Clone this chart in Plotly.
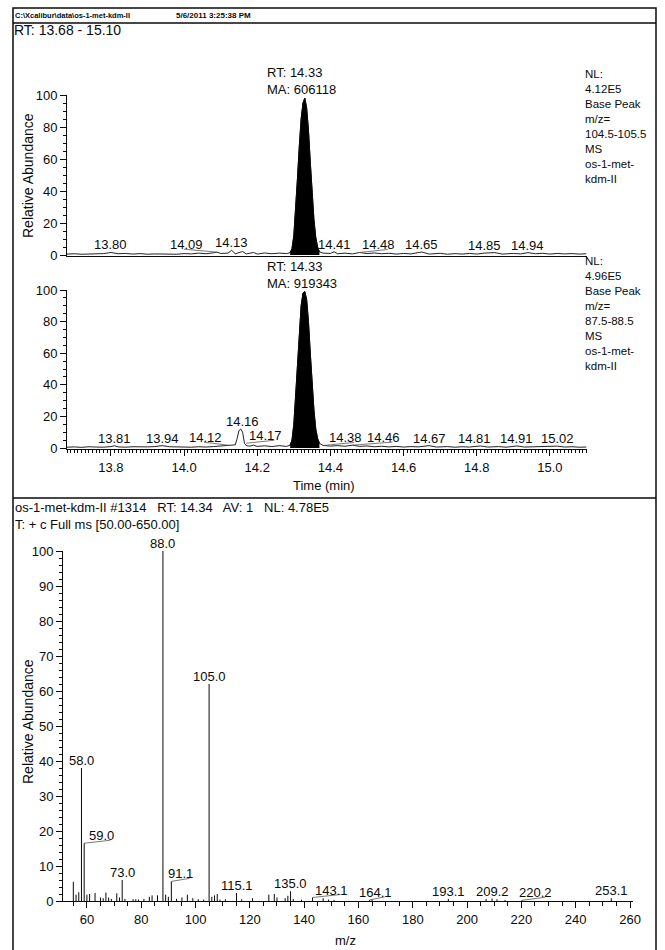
import numpy as np
import plotly.graph_objects as go

W, H = 665, 950

# ---------------- data ----------------
# Chromatogram 1: Base Peak m/z 104.5-105.5
chrom1_time = [13.68, 13.70, 13.72, 13.74, 13.76, 13.78, 13.80, 13.82, 13.84, 13.86, 13.88, 13.90,
               13.92, 13.94, 13.96, 13.98, 14.00, 14.02, 14.04, 14.06, 14.08, 14.09, 14.10, 14.12,
               14.13, 14.14, 14.16, 14.17, 14.19, 14.20, 14.22, 14.24, 14.26, 14.28, 14.29, 14.295,
               14.30, 14.305, 14.31, 14.315, 14.32, 14.325, 14.33, 14.335, 14.34, 14.345, 14.35,
               14.355, 14.36, 14.365, 14.37, 14.38, 14.40, 14.41, 14.42, 14.44, 14.46, 14.48, 14.50,
               14.52, 14.54, 14.56, 14.58, 14.60, 14.62, 14.65, 14.67, 14.70, 14.72, 14.74, 14.76,
               14.78, 14.80, 14.82, 14.85, 14.87, 14.90, 14.92, 14.94, 14.96, 14.98, 15.00, 15.02,
               15.04, 15.06, 15.08, 15.10]
chrom1_abund = [0.6, 0.8, 0.5, 0.7, 0.6, 0.9, 1.6, 0.8, 1.0, 0.6, 0.9, 0.5,
                0.7, 0.6, 0.8, 0.5, 0.9, 0.7, 1.2, 0.8, 1.4, 1.8, 1.0, 1.2,
                3.0, 0.8, 2.2, 0.7, 1.6, 0.6, 1.3, 0.8, 1.2, 0.9, 1.5, 4.0,
                12.0, 28.0, 48.0, 68.0, 85.0, 95.0, 98.0, 92.0, 78.0, 58.0, 38.0,
                22.0, 11.0, 5.0, 2.0, 1.2, 1.0, 2.0, 0.8, 1.2, 0.7, 1.6, 0.9,
                1.3, 0.8, 1.1, 0.6, 1.0, 0.7, 1.9, 0.6, 1.1, 0.5, 0.9, 0.6,
                1.0, 0.6, 1.2, 1.5, 0.6, 1.0, 0.7, 1.5, 0.8, 1.1, 0.6, 1.0,
                0.7, 0.9, 0.6, 0.8]
chrom1_labels = [13.80, 14.09, 14.13, 14.41, 14.48, 14.65, 14.85, 14.94]

# Chromatogram 2: Base Peak m/z 87.5-88.5
chrom2_time = [13.68, 13.70, 13.72, 13.74, 13.76, 13.78, 13.80, 13.81, 13.82, 13.84, 13.86, 13.88,
               13.90, 13.92, 13.94, 13.96, 13.98, 14.00, 14.02, 14.04, 14.06, 14.08, 14.10, 14.12,
               14.13, 14.14, 14.145, 14.15, 14.155, 14.16, 14.165, 14.17, 14.18, 14.19, 14.20, 14.22,
               14.24, 14.26, 14.28, 14.29, 14.295, 14.30, 14.305, 14.31, 14.315, 14.32, 14.325, 14.33,
               14.335, 14.34, 14.345, 14.35, 14.355, 14.36, 14.365, 14.37, 14.38, 14.40, 14.42, 14.44,
               14.46, 14.48, 14.50, 14.52, 14.54, 14.56, 14.58, 14.60, 14.62, 14.64, 14.67, 14.69,
               14.72, 14.74, 14.76, 14.78, 14.81, 14.83, 14.86, 14.88, 14.91, 14.93, 14.96, 14.98,
               15.00, 15.02, 15.04, 15.06, 15.08, 15.10]
chrom2_abund = [0.5, 0.7, 0.4, 0.8, 0.6, 0.5, 0.9, 1.4, 0.7, 0.5, 0.8, 0.6,
                0.7, 0.9, 1.5, 0.8, 0.6, 0.7, 0.5, 0.8, 0.6, 0.9, 1.2, 1.8,
                1.6, 2.0, 6.0, 11.0, 12.0, 10.0, 3.0, 1.5, 1.2, 1.8, 1.0, 1.4,
                0.9, 1.5, 1.0, 1.8, 5.0, 15.0, 33.0, 55.0, 75.0, 90.0, 98.0, 99.0,
                94.0, 80.0, 60.0, 40.0, 24.0, 12.0, 6.0, 3.0, 1.6, 1.2, 1.5, 1.1,
                1.8, 1.0, 1.3, 0.8, 1.1, 0.7, 1.0, 0.6, 0.9, 0.7, 1.5, 0.6,
                0.9, 0.5, 0.8, 0.6, 1.3, 0.6, 0.9, 0.5, 1.3, 0.6, 0.8, 0.5,
                0.7, 1.2, 0.6, 0.8, 0.5, 0.6]
chrom2_labels = [13.81, 13.94, 14.12, 14.16, 14.17, 14.38, 14.46, 14.67, 14.81, 14.91, 15.02]

peak_rt = 14.33
peak_window = (14.29, 14.37)
chrom1_ma = 606118
chrom2_ma = 919343

# Mass spectrum, scan #1314
spec_mz = [55, 56, 57, 58, 59, 60, 61, 63, 65, 66, 67, 68, 69, 71, 72, 73, 74, 77, 78, 79,
           81, 83, 84, 86, 88, 89, 90, 91.1, 93, 95, 97, 99, 101, 103, 105, 106, 107, 108,
           109, 111, 115.1, 117, 121, 127, 129, 130, 133, 134, 135, 136, 139, 143.1, 147,
           149, 151, 164.1, 165, 193.1, 207, 209.2, 211, 214, 220.2, 253.1]
spec_abund = [5.5, 1.8, 2.5, 38.0, 16.5, 1.8, 2.0, 2.3, 1.0, 0.8, 2.4, 1.0, 0.6, 2.2, 1.0, 6.0, 0.6, 0.5, 0.5, 0.4,
              0.6, 1.2, 1.6, 1.6, 100.0, 1.8, 1.2, 5.6, 0.6, 1.0, 1.8, 0.8, 0.5, 0.4, 62.0, 1.2, 1.6, 2.0,
              0.4, 0.5, 2.3, 0.5, 0.8, 1.8, 2.0, 1.0, 0.8, 1.5, 2.8, 0.6, 0.4, 1.0, 0.8,
              0.4, 0.3, 0.3, 0.4, 0.6, 0.6, 0.7, 0.5, 0.3, 0.2, 0.8]
spec_labels = [58.0, 59.0, 73.0, 88.0, 91.1, 105.0, 115.1, 135.0, 143.1, 164.1, 193.1, 209.2, 220.2, 253.1]

# ---------------- helpers ----------------
FONT = "Liberation Sans, Arial, sans-serif"
INK = "#0a0a0a"
LEADER = "#555555"


def fx(p):
    return p / W


def fy(p):
    return 1 - p / H


fig = go.Figure()

# chromatogram traces
for t, a, xa, ya in [(chrom1_time, chrom1_abund, "x", "y"), (chrom2_time, chrom2_abund, "x2", "y2")]:
    t = np.array(t)
    a = np.array(a)
    m = (t >= peak_window[0]) & (t <= peak_window[1])
    fig.add_trace(go.Scatter(x=t[m], y=a[m], mode="lines", fill="tozeroy", fillcolor="black",
                             line=dict(color="black", width=1), xaxis=xa, yaxis=ya, hoverinfo="skip"))
    fig.add_trace(go.Scatter(x=t, y=a, mode="lines", line=dict(color=INK, width=0.9),
                             xaxis=xa, yaxis=ya))

# spectrum sticks
sx, sy = [], []
for m_, v in zip(spec_mz, spec_abund):
    sx += [m_, m_, None]
    sy += [0, v, None]
fig.add_trace(go.Scatter(x=sx, y=sy, mode="lines", line=dict(color=INK, width=1),
                         xaxis="x3", yaxis="y3"))

axis_common = dict(showgrid=False, zeroline=False, showline=True, linecolor=INK, linewidth=1,
                   automargin=False,
                   tickcolor=INK, tickwidth=1, tickfont=dict(family=FONT, size=13, color=INK))

chrom_xdom = [fx(67), fx(586.5)]
fig.update_layout(
    template="none",
    width=W, height=H, margin=dict(l=0, r=0, t=0, b=0, pad=0),
    paper_bgcolor="white", plot_bgcolor="white", showlegend=False,
    font=dict(family=FONT, color=INK),
    xaxis=dict(domain=chrom_xdom, range=[13.68, 15.10], anchor="y", ticks="",
               showticklabels=False, **axis_common),
    yaxis=dict(domain=[fy(256), fy(95)], range=[-0.6, 100], anchor="x", ticks="outside",
               ticklen=6, tick0=0, dtick=20,
               minor=dict(ticks="outside", ticklen=3, dtick=5, tickcolor=INK), **axis_common),
    xaxis2=dict(domain=chrom_xdom, range=[13.68, 15.10], anchor="y2", ticks="outside",
                ticklen=6, tick0=13.8, dtick=0.2, tickformat=".1f",
                minor=dict(ticks="outside", ticklen=3, dtick=0.01, tickcolor=INK), **axis_common),
    yaxis2=dict(domain=[fy(448.95), fy(290)], range=[-0.6, 100], anchor="x2", ticks="outside",
                ticklen=6, tick0=0, dtick=20,
                minor=dict(ticks="outside", ticklen=3, dtick=5, tickcolor=INK), **axis_common),
    xaxis3=dict(domain=[fx(63), fx(633)], range=[51.2, 261.1], anchor="y3", ticks="outside",
                ticklen=6, tick0=0, dtick=20,
                minor=dict(ticks="outside", ticklen=4, dtick=5, tickcolor=INK), **axis_common),
    yaxis3=dict(domain=[fy(901), fy(551)], range=[0, 100], anchor="x3", ticks="outside",
                ticklen=6, tick0=0, dtick=10,
                minor=dict(ticks="outside", ticklen=3, dtick=2, tickcolor=INK), **axis_common),
)

ann = []
shapes = []


def paper_text(text, x, y, size=13, xanchor="left", yanchor="middle", angle=0, bold=False):
    if bold:
        text = "<b>" + text + "</b>"
    ann.append(dict(text=text, x=fx(x), y=fy(y), xref="paper", yref="paper", showarrow=False,
                    xanchor=xanchor, yanchor=yanchor, textangle=angle, align="left",
                    font=dict(family=FONT, size=size, color=INK)))


def leader(xv, yv, xa, ya, shift):
    # thin connector from a peak apex to its displaced label
    end = shift + (9 if shift > 0 else -2)
    shapes.append(dict(type="line", xref=xa, yref=ya, xsizemode="pixel", ysizemode="pixel",
                       xanchor=xv, yanchor=yv, x0=0, x1=end, y0=0, y1=3,
                       line=dict(color=LEADER, width=0.8)))


# header
paper_text("C:\\Xcalibur\\data\\os-1-met-kdm-II", 13, 15, size=7.5, bold=True)
paper_text("5/6/2011 3:25:38 PM", 174, 15, size=8, bold=True)
paper_text("RT: 13.68 - 15.10", 12, 30, size=14)

# y titles
paper_text("Relative Abundance", 28, 176, size=14, xanchor="center", angle=-90)
paper_text("Relative Abundance", 28, 722, size=14, xanchor="center", angle=-90)

# NL blocks
paper_text("NL:<br>4.12E5<br>Base Peak<br>m/z=<br>104.5-105.5<br>MS<br>os-1-met-<br>kdm-II",
           583, 66, size=11.5, yanchor="top")
paper_text("NL:<br>4.96E5<br>Base Peak<br>m/z=<br>87.5-88.5<br>MS<br>os-1-met-<br>kdm-II",
           583, 253, size=11.5, yanchor="top")

# axis titles
paper_text("Time (min)", 324, 486, size=13, xanchor="center")
paper_text("m/z", 345, 940, size=13, xanchor="center")

# spectrum header
paper_text("os-1-met-kdm-II #1314   RT: 14.34   AV: 1   NL: 4.78E5", 13, 507, size=13)
paper_text("T: + c Full ms [50.00-650.00]", 13, 524, size=13)

# peak RT / MA labels
paper_text(f"RT: {peak_rt:.2f}<br>MA: {chrom1_ma}", 265, 81, size=13)
paper_text(f"RT: {peak_rt:.2f}<br>MA: {chrom2_ma}", 265, 275, size=13)

# chromatogram peak labels (shift = label displacement used by the instrument software)
shift1 = {14.09: -31, 14.48: 19, 14.85: -11}
shift2 = {14.12: -22, 14.17: 19, 14.38: 22, 14.46: 31, 14.81: -6}
for labels, t, a, xa, ya, sh in [(chrom1_labels, chrom1_time, chrom1_abund, "x", "y", shift1),
                                   (chrom2_labels, chrom2_time, chrom2_abund, "x2", "y2", shift2)]:
    t = np.array(t)
    a = np.array(a)
    for lt in labels:
        win = np.abs(t - lt) <= 0.006
        v = float(a[win].max())
        s = sh.get(lt, 0)
        ann.append(dict(text=f"{lt:.2f}", x=lt, y=v, xref=xa, yref=ya, showarrow=False,
                        xanchor="center", yanchor="bottom", xshift=s, yshift=-2,
                        font=dict(family=FONT, size=13, color=INK)))
        if abs(s) > 12:
            leader(lt, v, xa, ya, s)

# spectrum labels
spec_shift = {59.0: 17, 91.1: 9, 143.1: 19, 164.1: 6, 220.2: 14}
mz_arr = np.array(spec_mz, dtype=float)
ab_arr = np.array(spec_abund)
for lm in spec_labels:
    i = int(np.argmin(np.abs(mz_arr - lm)))
    s = spec_shift.get(lm, 0)
    ann.append(dict(text=f"{lm:.1f}", x=mz_arr[i], y=ab_arr[i], xref="x3", yref="y3", showarrow=False,
                    xanchor="center", yanchor="bottom", xshift=s, yshift=-2,
                    font=dict(family=FONT, size=13, color=INK)))
    if s:
        leader(float(mz_arr[i]), float(ab_arr[i]), "x3", "y3", s)

fig.update_layout(annotations=ann)

# frame lines
shapes += [
    dict(type="rect", xref="paper", yref="paper", x0=fx(13), x1=fx(656), y0=fy(955), y1=fy(8),
         line=dict(color=INK, width=1.5)),
    dict(type="line", xref="paper", yref="paper", x0=fx(13), x1=fx(656), y0=fy(23), y1=fy(23),
         line=dict(color=INK, width=1.5)),
    dict(type="line", xref="paper", yref="paper", x0=fx(13), x1=fx(656), y0=fy(498), y1=fy(498),
         line=dict(color=INK, width=1.5)),
]
fig.update_layout(shapes=shapes)

fig.write_html("out.html", config={"displayModeBar": False},
               post_script="document.body.style.margin='0';")
